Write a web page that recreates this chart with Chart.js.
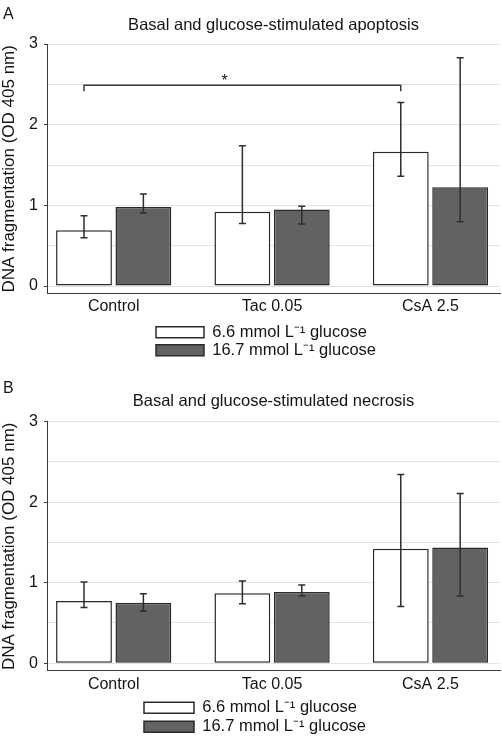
<!DOCTYPE html>
<html><head><meta charset="utf-8">
<script src="https://cdn.jsdelivr.net/npm/chart.js@4"></script>
<style>
html,body{margin:0;padding:0;background:#fff;overflow:hidden;width:502px;height:737px;}
canvas{position:absolute;left:0;}
#cA{top:0}
#cB{top:368px}
</style></head><body>
<canvas id="cA" width="502" height="368"></canvas>
<canvas id="cB" width="502" height="385"></canvas>
<script>
// ---- data ----
const categories = ['Control', 'Tac 0.05', 'CsA 2.5'];
const seriesLabels = ['6.6 mmol L\u207B\u00B9 glucose', '16.7 mmol L\u207B\u00B9 glucose'];
const yAxisTitle = 'DNA fragmentation (OD 405 nm)';

// Panel A: apoptosis
const apoTitle = 'Basal and glucose-stimulated apoptosis';
const apoLow = [0.69, 0.92, 1.665];
const apoLowErrHi = [0.87, 1.74, 2.275];
const apoLowErrLo = [0.60, 0.776, 1.36];
const apoHigh = [0.98, 0.95, 1.224];
const apoHighErrHi = [1.14, 0.99, 2.83];
const apoHighErrLo = [0.905, 0.77, 0.797];
// significance bracket (Control vs CsA 2.5, low glucose)
const sigFrom = 0, sigTo = 2, sigLevel = 2.49, sigMark = '*', sigMarkAt = 1.7;

// Panel B: necrosis
const necTitle = 'Basal and glucose-stimulated necrosis';
const necLow = [0.773, 0.868, 1.421];
const necLowErrHi = [1.01, 1.022, 2.344];
const necLowErrLo = [0.693, 0.739, 0.706];
const necHigh = [0.752, 0.885, 1.438];
const necHighErrHi = [0.864, 0.973, 2.107];
const necHighErrLo = [0.648, 0.835, 0.835];

const yMin = -0.095, yMax = 3, yStep = 0.5;

// ---- styling ----
const FONT = "'Liberation Sans', Arial, Helvetica, sans-serif";
const INK = '#141414';
const AXIS = '#3a3a3a';
const BAR_EDGE = '#2a2a2a';

const errorBars = {
  id: 'errorBars',
  afterDatasetsDraw(chart) {
    const ctx = chart.ctx, y = chart.scales.y;
    ctx.save();
    ctx.strokeStyle = '#2e2e2e';
    ctx.lineWidth = 1.5;
    chart.data.datasets.forEach((ds, i) => {
      const meta = chart.getDatasetMeta(i);
      meta.data.forEach((el, j) => {
        const x = el.x;
        const yh = y.getPixelForValue(ds.errHi[j]);
        const yl = y.getPixelForValue(ds.errLo[j]);
        ctx.beginPath();
        ctx.moveTo(x, yh); ctx.lineTo(x, yl);
        ctx.moveTo(x - 3.5, yh); ctx.lineTo(x + 3.5, yh);
        ctx.moveTo(x - 3.5, yl); ctx.lineTo(x + 3.5, yl);
        ctx.stroke();
      });
    });
    ctx.restore();
  }
};

const sigBracket = {
  id: 'sigBracket',
  afterDatasetsDraw(chart, args, o) {
    if (!o || !o.show) return;
    const ctx = chart.ctx;
    const meta = chart.getDatasetMeta(0);
    const x1 = meta.data[o.from].x, x2 = meta.data[o.to].x;
    const y = chart.scales.y.getPixelForValue(o.level);
    ctx.save();
    ctx.strokeStyle = '#3a3a3a';
    ctx.lineWidth = 1.5;
    ctx.beginPath();
    ctx.moveTo(x1, y + 6); ctx.lineTo(x1, y); ctx.lineTo(x2, y); ctx.lineTo(x2, y + 6);
    ctx.stroke();
    ctx.fillStyle = INK;
    ctx.font = '16px ' + FONT;
    ctx.textAlign = 'center';
    ctx.textBaseline = 'alphabetic';
    ctx.fillText(o.text, chart.scales.x.getPixelForValue(o.at), y + 1);
    ctx.restore();
  }
};

const legendPlace = {
  id: 'legendPlace',
  afterInit(chart, args, o) {
    const lg = chart.legend;
    const orig = lg.update;
    lg.update = function (maxW, maxH, margins) {
      return orig.call(this, Math.min(maxW, o.width), maxH, margins);
    };
  },
  afterLayout(chart, args, o) {
    const lg = chart.legend;
    const lab = lg.options.labels;
    const pad = lab.padding;
    const fs = lab.font.size;
    lg.left = o.x - pad;
    lg.right = lg.left + o.width;
    lg.width = o.width;
    lg.top = o.y - pad - Math.max((fs - lab.boxHeight) / 2, 0);
    lg.bottom = lg.top + lg.height;
  }
};

function makeChart(id, P) {
  const xs = categories.map((_, i) => i + 1);
  return new Chart(document.getElementById(id), {
    type: 'bar',
    data: {
      datasets: [
        { label: seriesLabels[0], data: xs.map((x, i) => ({ x, y: P.low[i] })),
          errHi: P.lowHi, errLo: P.lowLo,
          backgroundColor: '#ffffff', borderColor: BAR_EDGE, borderWidth: 1.5, borderSkipped: false },
        { label: seriesLabels[1], data: xs.map((x, i) => ({ x, y: P.high[i] })),
          errHi: P.highHi, errLo: P.highLo,
          backgroundColor: '#626262', borderColor: BAR_EDGE, borderWidth: 1.5, borderSkipped: false }
      ]
    },
    options: {
      responsive: false, animation: false, devicePixelRatio: 1,
      datasets: { bar: { categoryPercentage: 0.75, barPercentage: 0.94 } },
      layout: { padding: { left: 3, right: 2, top: 0, bottom: P.padBottom } },
      scales: {
        x: {
          type: 'linear', min: 0.579, max: 3.439, offset: false,
          afterBuildTicks: s => { s.ticks = xs.map(v => ({ value: v })); },
          grid: { display: false, drawTicks: false },
          border: { display: true, color: AXIS, width: 1 },
          ticks: { padding: P.xPad, color: INK, font: { family: FONT, size: 16 },
                   autoSkip: false, maxRotation: 0, callback: v => categories[v - 1] }
        },
        y: {
          min: yMin, max: yMax,
          afterFit: s => { s.width = 44; },
          ticks: { stepSize: yStep, includeBounds: false, padding: 6, color: INK,
                   font: { family: FONT, size: 16 },
                   callback: v => Number.isInteger(v) ? String(v) : '' },
          grid: { color: '#e3e3e3', lineWidth: 1, tickLength: 3,
                  tickColor: c => (c.tick && Number.isInteger(c.tick.value)) ? AXIS : 'rgba(0,0,0,0)' },
          border: { display: true, color: AXIS, width: 1 },
          title: { display: true, text: yAxisTitle, color: INK,
                   font: { family: FONT, size: 17, lineHeight: '12px' }, padding: { top: 0, bottom: 0 } }
        }
      },
      plugins: {
        tooltip: { enabled: false },
        subtitle: { display: true, text: P.letter, align: 'start', fullSize: true, weight: 3000,
                    color: INK, font: { family: FONT, size: 16, weight: 'normal', lineHeight: '10px' },
                    padding: { top: P.letterTop, bottom: 0 } },
        title: { display: true, text: P.title, fullSize: false, color: INK,
                 font: { family: FONT, size: 16.5, weight: 'normal', lineHeight: '11px' },
                 padding: { top: P.titleTop, bottom: P.titleBottom } },
        legend: { display: true, position: 'bottom', align: 'start',
                  labels: { boxWidth: P.boxW, boxHeight: 11, padding: P.legPad, color: INK,
                            font: { family: FONT, size: 16.5 } } },
        legendPlace: { x: P.legX, y: P.legY, width: 240 },
        sigBracket: P.sig || { show: false }
      }
    },
    plugins: [errorBars, sigBracket, legendPlace]
  });
}

makeChart('cA', {
  letter: 'A', title: apoTitle,
  low: apoLow, lowHi: apoLowErrHi, lowLo: apoLowErrLo,
  high: apoHigh, highHi: apoHighErrHi, highLo: apoHighErrLo,
  letterTop: 10, titleTop: 0, titleBottom: 13,
  padBottom: 2.9, xPad: 3, boxW: 48, legPad: 1.6, legX: 156, legY: 326.7,
  sig: { show: true, from: sigFrom, to: sigTo, level: sigLevel, text: sigMark, at: sigMarkAt }
});
makeChart('cB', {
  letter: 'B', title: necTitle,
  low: necLow, lowHi: necLowErrHi, lowLo: necLowErrLo,
  high: necHigh, highHi: necHighErrHi, highLo: necHighErrLo,
  letterTop: 15.3, titleTop: 2.7, titleBottom: 14.7,
  padBottom: 7.7, xPad: 3.7, boxW: 50, legPad: 2.4, legX: 144, legY: 334.3
});
</script>
</body></html>
